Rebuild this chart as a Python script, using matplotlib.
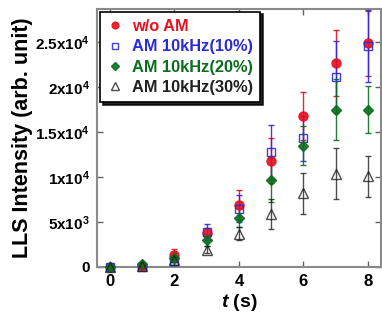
import numpy as np
import matplotlib
matplotlib.use("Agg")
import matplotlib.pyplot as plt

plt.rcParams['font.family'] = ['Liberation Sans', 'DejaVu Sans']
plt.rcParams['font.weight'] = 'bold'
plt.rcParams['mathtext.fontset'] = 'custom'
plt.rcParams['mathtext.rm'] = 'Liberation Sans:bold'
plt.rcParams['mathtext.it'] = 'Liberation Sans:bold:italic'
plt.rcParams['mathtext.bf'] = 'Liberation Sans:bold'
plt.rcParams['mathtext.default'] = 'rm'

# time (s)
t = [0, 1, 2, 3, 4, 5, 6, 7, 8]

# LLS intensity
noAM = [0, 100, 1300, 3800, 6900, 11800, 16800, 22700, 24900]
noAM_err = [100, 200, 700, 500, 1700, 2500, 2700, 3700, 3600]
am10 = [0, 0, 700, 3900, 6500, 12800, 14300, 21100, 24600]
am10_err = [100, 200, 500, 900, 1500, 3000, 2500, 4000, 4000]
am20 = [0, 300, 1000, 3000, 5500, 9700, 13500, 17500, 17500]
am20_err = [100, 300, 500, 700, 1100, 2500, 2200, 3400, 2600]
am30 = [0, 100, 800, 1900, 3700, 5900, 8200, 10400, 10100]
am30_err = [100, 100, 300, 400, 700, 1700, 2300, 2800, 2300]

labels = ['w/o AM', 'AM 10kHz(10%)', 'AM 10kHz(20%)', 'AM 10kHz(30%)']
yticks = [0, 5000, 10000, 15000, 20000, 25000]
ytick_labels = ['0', r'$5x10^{3}$', r'$1x10^{4}$', r'$1.5x10^{4}$',
                r'$2x10^{4}$', r'$2.5x10^{4}$']

red = '#e8101e'
blue = '#2a2ad6'
green = '#0a6e1e'
black = '#202020'

fig = plt.figure(figsize=(3.82, 3.24), dpi=100)
ax = fig.add_axes([0.254, 0.176, 0.743, 0.796])

series = [
    (noAM, noAM_err, 'o', red, red, 6.5),
    (am10, am10_err, 's', 'none', blue, 6),
    (am20, am20_err, 'D', green, green, 5.5),
    (am30, am30_err, '^', 'none', black, 7),
]
handles = []
for (y, e, m, fc, ec, ms), lab in zip(series, labels):
    cont = ax.errorbar(t, y, yerr=e, fmt=m, ms=ms, mfc=fc, mec=ec, mew=1.0,
                       ecolor=ec, elinewidth=1.0, capsize=2, capthick=1.0,
                       alpha=0.9 if ec != black else 0.8, label=lab,
                       clip_on=False, zorder=3)
    handles.append(cont[0])

ax.set_xlim(-0.4, 8.4)
ax.set_ylim(0, 28700)
ax.set_xticks([0, 2, 4, 6, 8])
ax.set_yticks(yticks)
ax.set_yticklabels(ytick_labels)
ax.tick_params(direction='in', top=True, right=True, length=4, width=1,
               color='#606060', labelsize=11, pad=5)
for lbl in ax.get_xticklabels():
    lbl.set_fontsize(12)
for s in ax.spines.values():
    s.set_color('#8a8a8a')
    s.set_linewidth(1.5)

ax.set_xlabel(r'$\mathit{t}$ (s)', fontsize=14, fontweight='bold', labelpad=2)
ax.set_ylabel('LLS Intensity (arb. unit)', fontsize=15.5, fontweight='bold',
              labelpad=2)

leg = ax.legend(handles, labels, loc='upper left',
                bbox_to_anchor=(0.01, 0.99),
                borderaxespad=0, fontsize=11.8, markerscale=0.75,
                handletextpad=0.5, labelspacing=0.32, borderpad=0.45,
                fancybox=False, shadow={'color': 'black', 'alpha': 0.85},
                framealpha=1, handlelength=1.0)
leg.get_frame().set_edgecolor('black')
leg.get_frame().set_linewidth(1.2)
for txt, c in zip(leg.get_texts(), [red, blue, green, black]):
    txt.set_color(c)

fig.savefig('out.png', dpi=100)
